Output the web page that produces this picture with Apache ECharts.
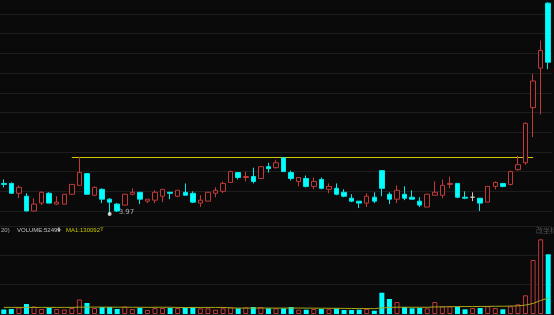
<!DOCTYPE html>
<html><head><meta charset="utf-8">
<script src="https://cdn.jsdelivr.net/npm/echarts@6/dist/echarts.min.js"></script>
<style>html,body{margin:0;padding:0;background:#0a0a0a;}#c{width:554px;height:315px;}</style>
</head><body><div id="c"></div><script>
// ---- data ----
const days = ['D01','D02','D03','D04','D05','D06','D07','D08','D09','D10','D11','D12','D13','D14','D15','D16','D17','D18','D19','D20','D21','D22','D23','D24','D25','D26','D27','D28','D29','D30','D31','D32','D33','D34','D35','D36','D37','D38','D39','D40','D41','D42','D43','D44','D45','D46','D47','D48','D49','D50','D51','D52','D53','D54','D55','D56','D57','D58','D59','D60','D61','D62','D63','D64','D65','D66','D67','D68','D69','D70','D71','D72','D73'];
const open  = [4.28,4.28,4.18,4.15,4.00,4.08,4.18,4.07,4.07,4.17,4.26,4.38,4.16,4.22,4.12,4.07,4.06,4.17,4.19,4.10,4.11,4.15,4.19,4.15,4.19,4.18,4.08,4.10,4.18,4.20,4.29,4.39,4.34,4.35,4.33,4.45,4.44,4.54,4.39,4.30,4.33,4.25,4.32,4.22,4.23,4.19,4.13,4.10,4.08,4.14,4.41,4.17,4.12,4.17,4.14,4.10,4.04,4.16,4.16,4.27,4.28,4.14,4.14,4.13,4.09,4.25,4.28,4.27,4.42,4.49,5.05,5.45,6.11];
const close = [4.27,4.18,4.24,4.00,4.07,4.19,4.08,4.09,4.17,4.27,4.39,4.17,4.24,4.12,4.09,4.00,4.17,4.19,4.12,4.12,4.19,4.22,4.18,4.21,4.16,4.09,4.11,4.19,4.21,4.28,4.40,4.34,4.35,4.30,4.45,4.43,4.49,4.40,4.33,4.34,4.25,4.30,4.23,4.25,4.17,4.15,4.10,4.08,4.15,4.10,4.23,4.12,4.21,4.13,4.12,4.06,4.17,4.19,4.26,4.28,4.14,4.13,4.14,4.08,4.25,4.29,4.25,4.40,4.47,4.89,5.32,5.63,5.51];
const low   = [4.24,4.18,4.13,4.00,4.00,4.06,4.08,4.06,4.07,4.17,4.26,4.17,4.15,4.08,3.97,3.99,4.06,4.16,4.07,4.08,4.08,4.09,4.12,4.14,4.16,4.08,4.04,4.10,4.14,4.18,4.29,4.32,4.30,4.28,4.33,4.39,4.43,4.40,4.31,4.25,4.24,4.22,4.22,4.18,4.16,4.14,4.09,4.03,4.04,4.08,4.15,4.07,4.08,4.11,4.12,4.04,4.04,4.16,4.13,4.23,4.13,4.12,4.10,4.00,4.09,4.22,4.24,4.26,4.41,4.47,4.75,4.98,5.44];
const high  = [4.32,4.29,4.26,4.18,4.13,4.20,4.19,4.15,4.17,4.27,4.55,4.38,4.25,4.23,4.13,4.08,4.17,4.23,4.19,4.12,4.21,4.22,4.19,4.21,4.28,4.20,4.16,4.19,4.24,4.30,4.41,4.39,4.40,4.44,4.45,4.49,4.52,4.54,4.41,4.34,4.36,4.34,4.34,4.28,4.28,4.22,4.17,4.10,4.18,4.19,4.41,4.19,4.26,4.25,4.21,4.14,4.17,4.30,4.32,4.35,4.28,4.20,4.19,4.13,4.25,4.30,4.28,4.41,4.56,4.90,5.39,5.73,6.12];
const volume = [36800,40900,53200,81800,61400,40900,49100,40900,36800,49100,118600,90000,49100,57300,57300,40900,61400,40900,49100,32700,49100,49100,49100,49100,49100,54800,46600,46600,35200,46600,54800,46600,54800,57300,57300,46600,46600,46600,57300,35200,35200,40900,40900,38500,46600,32700,32700,35200,40900,27000,174300,122700,98200,57300,46600,49100,46600,98200,63000,63000,59700,38500,49100,49100,63000,49100,38500,63000,79400,153000,441800,611200,488500];
const volMA = [54000,54000,54000,54000,54000,54000,54000,54000,54000,54000,56000,56500,56500,56000,56000,55500,55500,55000,55000,54400,55000,55400,55200,53600,53000,53700,53600,53800,53800,53600,50400,48300,48600,48600,48600,48800,48100,48400,48800,48900,48200,47800,47400,46900,46800,45700,45000,44400,44700,43700,49700,53500,55600,55600,55100,55200,55200,57800,58100,59500,60700,60600,61000,61500,62300,63200,63500,64800,66800,73100,86400,110900,130092];
const lowMarkIndex = 14, lowMarkValue = 3.97;
const resistanceLevel = 4.543, resistanceFrom = 9, resistanceTo = 70;
const volText = 'VOLUME:52499', maText = 'MA1:130092';

// ---- styles ----
const RED = '#c03a3a', CYAN = '#00ffff', BG = '#0a0a0a', GRID = '#1e1e1e';

const kData = days.map((d, i) => [open[i], close[i], low[i], high[i]]);
const volData = volume.map((v, i) => ({
  value: v,
  itemStyle: close[i] >= open[i]
    ? { color: BG, borderColor: RED, borderWidth: 1 }
    : { color: CYAN, borderColor: CYAN, borderWidth: 0 }
}));
const lineData = [[resistanceFrom, resistanceLevel], [resistanceTo, resistanceLevel]];

const chart = echarts.init(document.getElementById('c'), null, { renderer: 'canvas' });
const hiddenY = {
  axisLine: { show: false }, axisTick: { show: false }, axisLabel: { show: false },
  splitLine: { show: true, lineStyle: { color: GRID, width: 1 } }
};
const noEmph = { disabled: true };
chart.setOption({
  backgroundColor: BG,
  animation: false,
  grid: [
    { left: -1, right: 2, top: 14, height: 197 },
    { left: -1, right: 2, top: 226, height: 88 }
  ],
  xAxis: [
    { type: 'category', data: days, gridIndex: 0, show: false },
    { type: 'category', data: days, gridIndex: 1, show: false }
  ],
  yAxis: [
    Object.assign({ type: 'value', gridIndex: 0, min: 4, max: 6, interval: 0.2 }, hiddenY),
    Object.assign({ type: 'value', gridIndex: 1, min: 0, max: 720000, interval: 240000 }, hiddenY)
  ],
  series: [
    {
      type: 'line', xAxisIndex: 0, yAxisIndex: 0, data: lineData, symbol: 'none', silent: true,
      emphasis: noEmph, lineStyle: { color: '#d2c800', width: 1 }, z: 1
    },
    {
      type: 'candlestick', xAxisIndex: 0, yAxisIndex: 0, data: kData,
      barWidth: 5, clip: false, z: 2, silent: true, emphasis: noEmph,
      itemStyle: {
        color: BG, borderColor: RED, color0: CYAN, borderColor0: '#00e8e8',
        borderColorDoji: '#c8c8c8', borderWidth: 1
      }
    },
    {
      type: 'scatter', xAxisIndex: 0, yAxisIndex: 0, data: [[lowMarkIndex, lowMarkValue]], clip: false,
      symbol: 'circle', symbolSize: 4, silent: true, z: 10, emphasis: noEmph,
      itemStyle: { color: '#ffffff' },
      label: { show: true, position: 'right', distance: 7, offset: [0, -2], color: '#d0d0d0',
               fontSize: 7, fontFamily: 'DejaVu Sans', formatter: String(lowMarkValue) }
    },
    {
      type: 'bar', xAxisIndex: 1, yAxisIndex: 1, data: volData, barWidth: 5, silent: true, emphasis: noEmph
    },
    {
      type: 'line', xAxisIndex: 1, yAxisIndex: 1, data: volMA, symbol: 'none', silent: true, emphasis: noEmph,
      lineStyle: { color: '#a8a818', width: 1 }, z: 5
    }
  ],
  graphic: [
    { type: 'text', left: 1, top: 227, style: { text: '20)', fill: '#b4b4b4', font: '6px "Liberation Sans"' } },
    { type: 'text', left: 17, top: 227, style: { text: volText, fill: '#c0c0c0', font: '6px "Liberation Sans"' } },
    { type: 'text', left: 56, top: 226, style: { text: '↓', fill: '#e0e0e0', font: '7px "DejaVu Sans"' } },
    { type: 'text', left: 66, top: 227, style: { text: maText, fill: '#c8c800', font: '6px "Liberation Sans"' } },
    { type: 'text', left: 99, top: 226, style: { text: '↑', fill: '#c8c800', font: '7px "DejaVu Sans"' } },
    { type: 'text', left: 536, top: 227, style: { text: '改坐标', fill: '#505050', font: '7px "Noto Sans CJK SC"' } }
  ]
});
</script></body></html>
